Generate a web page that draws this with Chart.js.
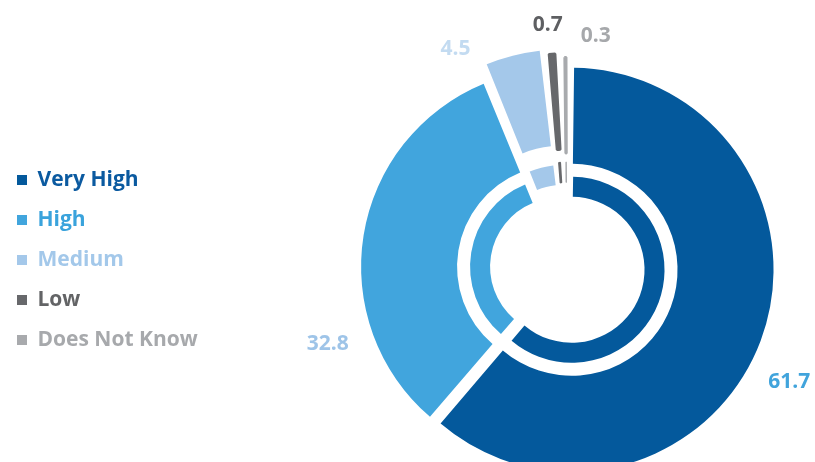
<!DOCTYPE html>
<html>
<head>
<meta charset="utf-8">
<script src="https://cdn.jsdelivr.net/npm/chart.js@4.4.1/dist/chart.umd.min.js"></script>
<style>
    html, body { margin: 0; padding: 0; background: #fff; overflow: hidden; width: 815px; height: 462px; }
    #wrap { position: relative; width: 926px; height: 536px; }
</style>
</head>
<body>
<div id="wrap"><canvas id="chart"></canvas></div>
<script>
// Data
const categories = ['Very High', 'High', 'Medium', 'Low', 'Does Not Know'];
const shares = [61.7, 32.8, 4.5, 0.7, 0.3];

// Styling
const sliceColors = ['#04599c', '#41a5dd', '#a4c8ea', '#67686b', '#a8aaad'];
const legendColors = ['#0b5aa0', '#3aa3dc', '#a3c8ea', '#636466', '#a7a9ac'];
const valueColors = ['#41a4dc', '#9ec4e8', '#c3dbf1', '#5e5f62', '#a6a8ab'];
const gapAfter = [0, 0, 0.3, 0.5, 0.1];       // white wedge after a slice (share units)
const outerOffset = [20, 32, 51, 36, 28];     // exploded slices, outer ring
const innerOffset = [20, 32, 36, 36, 36];     // exploded slices, inner ring
const outerEdge = [0, 0, 0, 2.5, 2.5];        // same-colour stroke so thin slivers stay visible
const innerEdge = [0, 0, 0, 1.5, 1.5];
const labelAngle = [117.2, 252.3, 333.1, 355.5, 7.1]; // degrees from 12 o'clock
const labelDist = [250, 251, 246, 244, 234];

const GAP = 'rgba(0,0,0,0)';

function buildRing(offsets, edges) {
    const data = [], colors = [], offs = [], widths = [];
    shares.forEach((v, i) => {
        data.push(v); colors.push(sliceColors[i]); offs.push(offsets[i]); widths.push(edges[i]);
        if (gapAfter[i] > 0) { data.push(gapAfter[i]); colors.push(GAP); offs.push(0); widths.push(0); }
    });
    return { data, colors, offs, widths };
}

const outer = buildRing(outerOffset, outerEdge);
const inner = buildRing(innerOffset, innerEdge);

const valueLabels = {
    id: 'valueLabels',
    afterDatasetsDraw(chart) {
        const arc = chart.getDatasetMeta(0).data[0];
        const ctx = chart.ctx;
        ctx.save();
        ctx.font = 'bold 21px "Open Sans"';
        ctx.textAlign = 'center';
        ctx.textBaseline = 'middle';
        shares.forEach((v, i) => {
            const a = labelAngle[i] * Math.PI / 180;
            ctx.fillStyle = valueColors[i];
            ctx.fillText(v.toFixed(1), arc.x + Math.sin(a) * labelDist[i], arc.y - Math.cos(a) * labelDist[i]);
        });
        ctx.restore();
    }
};

Chart.defaults.font.family = '"Open Sans", sans-serif';

new Chart(document.getElementById('chart'), {
    type: 'doughnut',
    data: {
        labels: outer.data.map(() => ''),
        datasets: [
            { data: outer.data, backgroundColor: outer.colors, borderColor: outer.colors, borderWidth: outer.widths, offset: outer.offs, weight: 96 },
            { data: [1], backgroundColor: GAP, weight: 13, borderWidth: 0 },
            { data: inner.data, backgroundColor: inner.colors, borderColor: inner.colors, borderWidth: inner.widths, offset: inner.offs, weight: 20 }
        ]
    },
    options: {
        responsive: true,
        maintainAspectRatio: false,
        animation: false,
        events: [],
        radius: 197,
        cutout: (68 / 197 * 100) + '%',
        rotation: 0.5,
        hoverOffset: 0,
        layout: { padding: { left: -2 } },
        plugins: {
            tooltip: { enabled: false },
            legend: {
                position: 'left',
                align: 'start',
                title: { display: true, text: '', font: { size: 10 }, padding: { top: 138.5, bottom: 0 } },
                labels: {
                    boxWidth: 10,
                    boxHeight: 10,
                    padding: 19,
                    font: { size: 21, weight: 'bold' },
                    generateLabels: () => categories.map((c, i) => ({
                        text: c,
                        fillStyle: sliceColors[i],
                        strokeStyle: sliceColors[i],
                        lineWidth: 0,
                        fontColor: legendColors[i],
                        hidden: false,
                        index: i
                    }))
                }
            }
        }
    },
    plugins: [valueLabels]
});
</script>
</body>
</html>
